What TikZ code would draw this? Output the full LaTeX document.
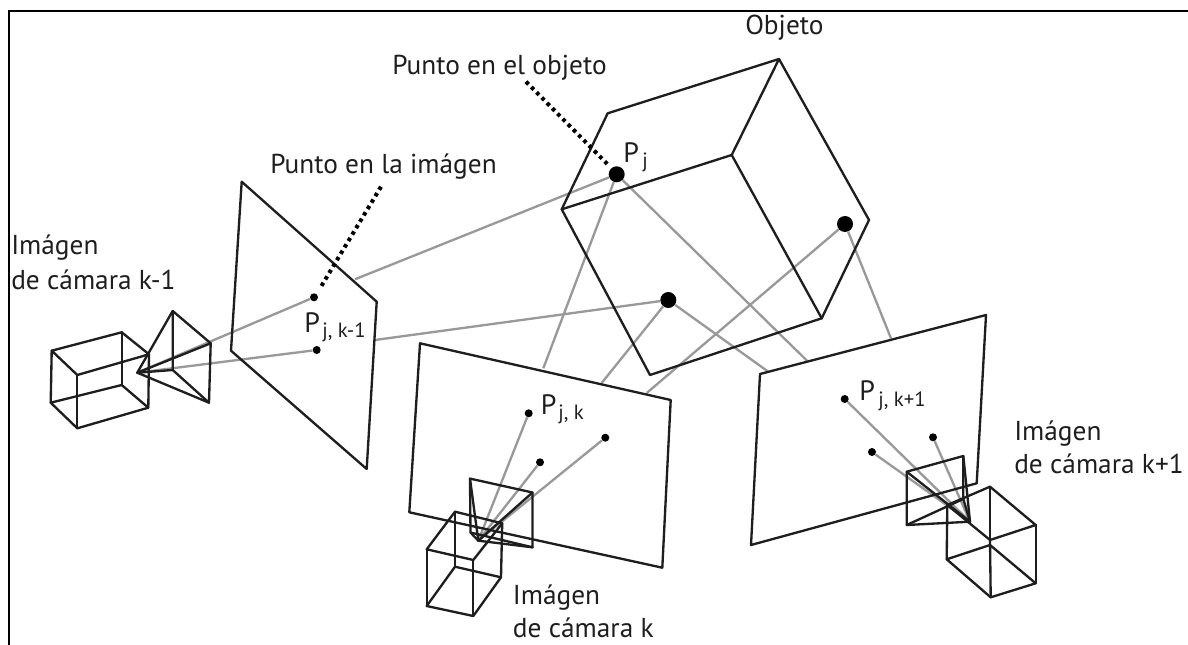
\documentclass[tikz,border=0pt]{standalone}
\usepackage{fontspec}
\setmainfont{PT Sans}
\definecolor{inkk}{HTML}{1E1E1E}
\definecolor{ray}{HTML}{999999}
\tikzset{
  wire/.style={draw=inkk,line width=1.75pt,line join=round,line cap=round},
  rayline/.style={draw=ray,line width=1.75pt},
  frameline/.style={draw=black,line width=2.2pt},
  leader/.style={draw=black,line width=3pt,dash pattern=on 2.7pt off 2.9pt},
  bigdot/.style={circle,fill=black,draw=none,inner sep=0pt,minimum size=12pt},
  smalldot/.style={circle,fill=black,draw=none,inner sep=0pt,minimum size=6pt},
  lab/.style={anchor=base west,inner sep=0pt,font=\fontsize{20.5}{22}\selectfont,text=inkk},
  psub/.style={anchor=base west,inner sep=0pt,font=\fontsize{15.5}{18}\selectfont,text=inkk},
  plab/.style={anchor=base west,inner sep=0pt,font=\fontsize{21}{22}\selectfont,text=inkk}
}
\begin{document}
\begin{tikzpicture}[x=0.75pt,y=-0.75pt]
\useasboundingbox (0,0) rectangle (1188,645);
% corners
\coordinate (fa) at (9,645); \coordinate (fb) at (9,11); \coordinate (fc) at (1188,11);
% object cube
\coordinate (c1) at (561.7,209.3); \coordinate (c2) at (607.7,113.3); \coordinate (c3) at (779,59);
\coordinate (c4) at (869,220); \coordinate (c5) at (821.7,318.3); \coordinate (c6) at (650,375);
\coordinate (c7) at (731.7,155);
% object points
\node[bigdot] (pj) at (616.7,174.3) {};
\node[bigdot] (pa) at (845,224) {};
\node[bigdot] (pb) at (668.3,300) {};
% left camera
\coordinate (la) at (241.7,181.7); \coordinate (lb) at (376.7,301.7); \coordinate (lc) at (366.7,469); \coordinate (ld) at (231,350.7);
\coordinate (lt1) at (51.7,350.7); \coordinate (lt2) at (121.7,332.3); \coordinate (lt3) at (149,354.3); \coordinate (lt4) at (77.3,375);
\coordinate (lu1) at (50.7,402.7); \coordinate (lu2) at (121.7,385); \coordinate (lu3) at (148.3,407.7); \coordinate (lu4) at (77.3,428.3);
\coordinate (lap) at (137.3,372.7); \coordinate (ls1) at (172.7,311); \coordinate (ls2) at (210.7,343.3); \coordinate (ls3) at (209,402.7); \coordinate (ls4) at (172.7,370);
\node[smalldot] (ld1) at (314,297.3) {};
\node[smalldot] (ld2) at (316.7,350) {};
\coordinate (le1) at (355,279.3); \coordinate (le2) at (375,340);
% middle camera
\coordinate (ma) at (420,343.3); \coordinate (mb) at (670.7,400); \coordinate (mc) at (662.3,567.7); \coordinate (md) at (409.3,512.3);
\coordinate (mt1) at (455,511.7); \coordinate (mt2) at (502.2,523.3); \coordinate (mt3) at (473.3,560); \coordinate (mt4) at (426.7,549.3);
\coordinate (mu1) at (455,566.7); \coordinate (mu2) at (501,577.3); \coordinate (mu3) at (473.3,616); \coordinate (mu4) at (426.7,606);
\coordinate (map) at (478.3,540.7); \coordinate (ms1) at (470,478.6); \coordinate (ms2) at (532.5,492.5); \coordinate (ms3) at (532.5,547.3); \coordinate (ms4) at (470.5,532.5);
\node[smalldot] (md1) at (528.7,413.3) {};
\node[smalldot] (md2) at (540,462.3) {};
\node[smalldot] (md3) at (605.3,437.7) {};
\coordinate (me1) at (543.3,368.3); \coordinate (me2) at (601.7,383); \coordinate (me3) at (646.7,393);
% right camera
\coordinate (ra) at (760,374); \coordinate (rb) at (986,315); \coordinate (rc) at (976.7,483.3); \coordinate (rd) at (751,545);
\coordinate (rt1) at (947.3,505); \coordinate (rt2) at (990,486.7); \coordinate (rt3) at (1035.7,525); \coordinate (rt4) at (990,540);
\coordinate (ru1) at (946.7,559.3); \coordinate (ru2) at (990,545); \coordinate (ru3) at (1035.7,583.3); \coordinate (ru4) at (990.7,597.3);
\coordinate (rap) at (970,521.7); \coordinate (rs1) at (906.7,471.7); \coordinate (rs2) at (963.3,456); \coordinate (rs3) at (963.3,499); \coordinate (rs4) at (906.7,525);
\node[smalldot] (rd1) at (844.7,399) {};
\node[smalldot] (rd2) at (872,452) {};
\node[smalldot] (rd3) at (933,437.3) {};
\coordinate (re1) at (807.3,361); \coordinate (re2) at (768.3,371.7); \coordinate (re3) at (891,338.3);
% leaders
\coordinate (q1) at (526,81.7); \coordinate (q2) at (607.3,164);
\coordinate (q3) at (381,186.7); \coordinate (q4) at (320,288.3);
% rays
\draw[rayline] (lap) -- (ld1);
\draw[rayline] (lap) -- (ld2);
\draw[rayline] (le1) -- (pj);
\draw[rayline] (le2) -- (pb);
\draw[rayline] (map) -- (md1);
\draw[rayline] (map) -- (md2);
\draw[rayline] (map) -- (md3);
\draw[rayline] (me1) -- (pj);
\draw[rayline] (me2) -- (pb);
\draw[rayline] (me3) -- (pa);
\draw[rayline] (rap) -- (rd1);
\draw[rayline] (rap) -- (rd2);
\draw[rayline] (rap) -- (rd3);
\draw[rayline] (re1) -- (pj);
\draw[rayline] (re2) -- (pb);
\draw[rayline] (re3) -- (pa);
% frame
\draw[frameline] (fa) -- (fb) -- (fc);
% cube
\draw[wire] (c1) -- (c2) -- (c3) -- (c4) -- (c5) -- (c6) -- cycle;
\draw[wire] (c1) -- (c7) -- (c3);
\draw[wire] (c7) -- (c5);
% left camera wire
\draw[wire] (la) -- (lb) -- (lc) -- (ld) -- cycle;
\draw[wire] (lt1) -- (lt2) -- (lt3) -- (lt4) -- cycle;
\draw[wire] (lu1) -- (lu2) -- (lu3) -- (lu4) -- cycle;
\draw[wire] (lt1) -- (lu1); \draw[wire] (lt2) -- (lu2); \draw[wire] (lt3) -- (lu3); \draw[wire] (lt4) -- (lu4);
\draw[wire] (ls1) -- (ls2) -- (ls3) -- (ls4) -- cycle;
\draw[wire] (lap) -- (ls1); \draw[wire] (lap) -- (ls2); \draw[wire] (lap) -- (ls3); \draw[wire] (lap) -- (ls4);
% middle camera wire
\draw[wire] (ma) -- (mb) -- (mc) -- (md) -- cycle;
\draw[wire] (mt1) -- (mt2) -- (mt3) -- (mt4) -- cycle;
\draw[wire] (mu1) -- (mu2) -- (mu3) -- (mu4) -- cycle;
\draw[wire] (mt1) -- (mu1); \draw[wire] (mt2) -- (mu2); \draw[wire] (mt3) -- (mu3); \draw[wire] (mt4) -- (mu4);
\draw[wire] (ms1) -- (ms2) -- (ms3) -- (ms4) -- cycle;
\draw[wire] (map) -- (ms1); \draw[wire] (map) -- (ms2); \draw[wire] (map) -- (ms3); \draw[wire] (map) -- (ms4);
% right camera wire
\draw[wire] (ra) -- (rb) -- (rc) -- (rd) -- cycle;
\draw[wire] (rt1) -- (rt2) -- (rt3) -- (rt4) -- cycle;
\draw[wire] (ru1) -- (ru2) -- (ru3) -- (ru4) -- cycle;
\draw[wire] (rt1) -- (ru1); \draw[wire] (rt2) -- (ru2); \draw[wire] (rt3) -- (ru3); \draw[wire] (rt4) -- (ru4);
\draw[wire] (rs1) -- (rs2) -- (rs3) -- (rs4) -- cycle;
\draw[wire] (rap) -- (rs1); \draw[wire] (rap) -- (rs2); \draw[wire] (rap) -- (rs3); \draw[wire] (rap) -- (rs4);
% leaders
\draw[leader] (q1) -- (q2);
\draw[leader] (q3) -- (q4);
% labels
\node[lab] (t1) at (745,35) {Objeto};
\node[lab] (t2) at (392,75) {Punto en el objeto};
\node[lab] (t3) at (270,174) {Punto en la imágen};
\node[lab] (t4) at (11,255) {Imágen};
\node[lab] (t5) at (11,289) {de cámara k-1};
\node[lab] (t6) at (512.7,604) {Imágen};
\node[lab] (t7) at (512.7,637) {de cámara k};
\node[lab] (t8) at (1014,440) {Imágen};
\node[lab] (t9) at (1014,473) {de cámara k+1};
\node[plab] (p1) at (304,332.7) {P};
\node[psub] (s1) at (322,337.7) {j, k-1};
\node[plab] (p2) at (623,162.7) {P};
\node[psub] (s2) at (642,168) {j};
\node[plab] (p3) at (540.5,414) {P};
\node[psub] (s3) at (558,419) {j, k};
\node[plab] (p4) at (859,400) {P};
\node[psub] (s4) at (878,406) {j, k+1};
\end{tikzpicture}
\end{document}
